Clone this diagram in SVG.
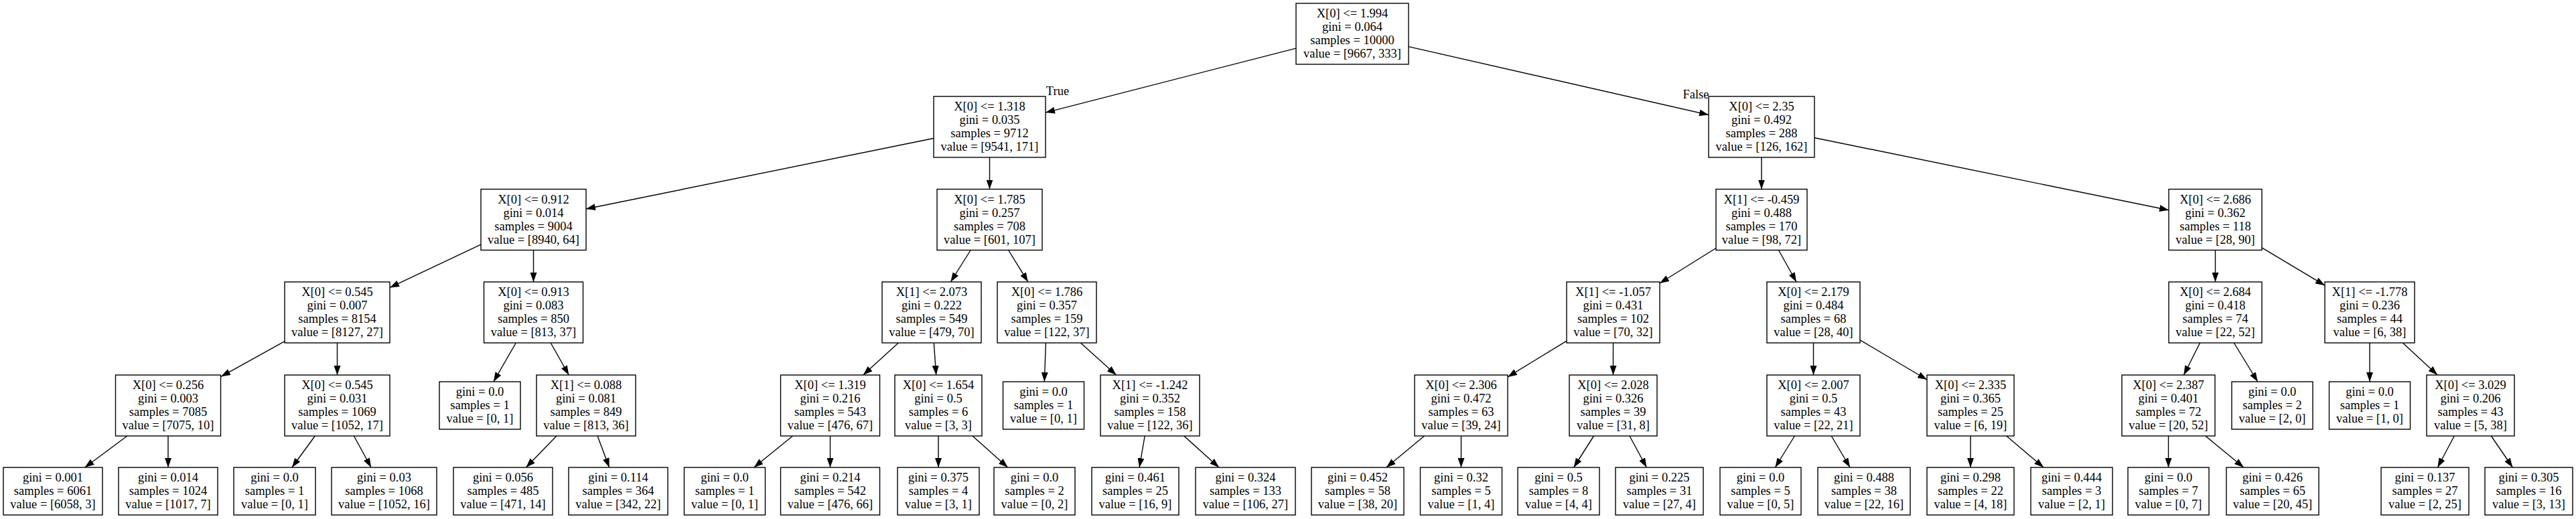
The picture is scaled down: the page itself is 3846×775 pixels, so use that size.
<svg xmlns="http://www.w3.org/2000/svg" width="3846" height="775" viewBox="0 0 3846 775">
<style>
.box{fill:#fff;stroke:#000;stroke-width:1.4}
.t{font-family:"Liberation Serif","Times New Roman",serif;font-size:18.5px;fill:#000;text-anchor:middle}
.e{stroke:#000;stroke-width:1.4;fill:none;marker-end:url(#arrow)}
.lbl{font-family:"Liberation Serif","Times New Roman",serif;font-size:18.5px;fill:#000;text-anchor:middle}
</style>
<defs>
<marker id="arrow" markerWidth="14" markerHeight="10" refX="14" refY="5" orient="auto" markerUnits="userSpaceOnUse"><path d="M0,0 L14,5 L0,10 z" fill="#000"/></marker>
</defs>
<rect x="0" y="0" width="3846" height="775" fill="#fff"/>
<g id="edges">
<line class="e" x1="1935" y1="72.1" x2="1561" y2="168.1"/>
<line class="e" x1="2103" y1="69.6" x2="2551" y2="171.5"/>
<line class="e" x1="1394" y1="206.5" x2="875" y2="312"/>
<line class="e" x1="1477.5" y1="235" x2="1477.5" y2="282.5"/>
<line class="e" x1="2630" y1="235" x2="2630" y2="282.5"/>
<line class="e" x1="2709" y1="205.7" x2="3238" y2="313.8"/>
<line class="e" x1="718" y1="365.1" x2="582" y2="429.4"/>
<line class="e" x1="796.5" y1="373.5" x2="796.5" y2="421"/>
<line class="e" x1="1449.1" y1="373.5" x2="1419.4" y2="421"/>
<line class="e" x1="1505.6" y1="373.5" x2="1534.9" y2="421"/>
<line class="e" x1="2562" y1="370.5" x2="2478" y2="423"/>
<line class="e" x1="2655.5" y1="373.5" x2="2682" y2="421"/>
<line class="e" x1="3307.5" y1="373.5" x2="3307.5" y2="421"/>
<line class="e" x1="3377" y1="369.8" x2="3471" y2="426.2"/>
<line class="e" x1="425" y1="509.7" x2="330" y2="562.3"/>
<line class="e" x1="503.5" y1="512" x2="503.5" y2="560"/>
<line class="e" x1="770.3" y1="512" x2="736.9" y2="570"/>
<line class="e" x1="822.2" y1="512" x2="849.3" y2="560"/>
<line class="e" x1="1341.3" y1="512" x2="1288.7" y2="560"/>
<line class="e" x1="1394.3" y1="512" x2="1397.7" y2="560"/>
<line class="e" x1="1561.4" y1="512" x2="1559.3" y2="570"/>
<line class="e" x1="1613.4" y1="512" x2="1666.6" y2="560"/>
<line class="e" x1="2339" y1="509.1" x2="2251" y2="562.9"/>
<line class="e" x1="2408.5" y1="512" x2="2408.5" y2="560"/>
<line class="e" x1="2707.5" y1="512" x2="2707.5" y2="560"/>
<line class="e" x1="2777" y1="507.7" x2="2877" y2="567"/>
<line class="e" x1="3284.6" y1="512" x2="3260.4" y2="560"/>
<line class="e" x1="3335.3" y1="512" x2="3370.8" y2="570"/>
<line class="e" x1="3538" y1="512" x2="3538" y2="570"/>
<line class="e" x1="3587.3" y1="512" x2="3639.2" y2="560"/>
<line class="e" x1="189.9" y1="651" x2="126.7" y2="698"/>
<line class="e" x1="251" y1="651" x2="251" y2="698"/>
<line class="e" x1="470.3" y1="651" x2="435.9" y2="698"/>
<line class="e" x1="528.4" y1="651" x2="554.1" y2="698"/>
<line class="e" x1="830.9" y1="651" x2="785.4" y2="698"/>
<line class="e" x1="892.1" y1="651" x2="909.7" y2="698"/>
<line class="e" x1="1183.5" y1="651" x2="1125.7" y2="698"/>
<line class="e" x1="1239.5" y1="651" x2="1239.5" y2="698"/>
<line class="e" x1="1401" y1="651" x2="1401" y2="698"/>
<line class="e" x1="1452" y1="651" x2="1504.7" y2="698"/>
<line class="e" x1="1709.2" y1="651" x2="1701.1" y2="698"/>
<line class="e" x1="1767.7" y1="651" x2="1820" y2="698"/>
<line class="e" x1="2126.6" y1="651" x2="2069.8" y2="698"/>
<line class="e" x1="2181.5" y1="651" x2="2181.5" y2="698"/>
<line class="e" x1="2379.5" y1="651" x2="2349.6" y2="698"/>
<line class="e" x1="2433" y1="651" x2="2458.4" y2="698"/>
<line class="e" x1="2679.4" y1="651" x2="2650.4" y2="698"/>
<line class="e" x1="2734.3" y1="651" x2="2762.1" y2="698"/>
<line class="e" x1="2942" y1="651" x2="2942" y2="698"/>
<line class="e" x1="2995.7" y1="651" x2="3051.1" y2="698"/>
<line class="e" x1="3237.5" y1="651" x2="3237.5" y2="698"/>
<line class="e" x1="3292.8" y1="651" x2="3349.9" y2="698"/>
<line class="e" x1="3664.3" y1="651" x2="3639.4" y2="698"/>
<line class="e" x1="3719.4" y1="651" x2="3751.4" y2="698"/>
<text class="lbl" x="1579" y="142">True</text>
<text class="lbl" x="2532" y="147">False</text>
</g>
<g id="n0"><rect class="box" x="1935" y="5" width="168" height="91"/><text class="t"><tspan x="2019" y="26">X[0] &lt;= 1.994</tspan><tspan x="2019" y="46">gini = 0.064</tspan><tspan x="2019" y="66">samples = 10000</tspan><tspan x="2019" y="86">value = [9667, 333]</tspan></text></g>
<g id="n1"><rect class="box" x="1394" y="144" width="167" height="91"/><text class="t"><tspan x="1477.5" y="165">X[0] &lt;= 1.318</tspan><tspan x="1477.5" y="185">gini = 0.035</tspan><tspan x="1477.5" y="205">samples = 9712</tspan><tspan x="1477.5" y="225">value = [9541, 171]</tspan></text></g>
<g id="n2"><rect class="box" x="2551" y="144" width="158" height="91"/><text class="t"><tspan x="2630" y="165">X[0] &lt;= 2.35</tspan><tspan x="2630" y="185">gini = 0.492</tspan><tspan x="2630" y="205">samples = 288</tspan><tspan x="2630" y="225">value = [126, 162]</tspan></text></g>
<g id="n3"><rect class="box" x="718" y="282.5" width="157" height="91"/><text class="t"><tspan x="796.5" y="303.5">X[0] &lt;= 0.912</tspan><tspan x="796.5" y="323.5">gini = 0.014</tspan><tspan x="796.5" y="343.5">samples = 9004</tspan><tspan x="796.5" y="363.5">value = [8940, 64]</tspan></text></g>
<g id="n4"><rect class="box" x="1399" y="282.5" width="157" height="91"/><text class="t"><tspan x="1477.5" y="303.5">X[0] &lt;= 1.785</tspan><tspan x="1477.5" y="323.5">gini = 0.257</tspan><tspan x="1477.5" y="343.5">samples = 708</tspan><tspan x="1477.5" y="363.5">value = [601, 107]</tspan></text></g>
<g id="n5"><rect class="box" x="2562" y="282.5" width="136" height="91"/><text class="t"><tspan x="2630" y="303.5">X[1] &lt;= -0.459</tspan><tspan x="2630" y="323.5">gini = 0.488</tspan><tspan x="2630" y="343.5">samples = 170</tspan><tspan x="2630" y="363.5">value = [98, 72]</tspan></text></g>
<g id="n6"><rect class="box" x="3238" y="282.5" width="139" height="91"/><text class="t"><tspan x="3307.5" y="303.5">X[0] &lt;= 2.686</tspan><tspan x="3307.5" y="323.5">gini = 0.362</tspan><tspan x="3307.5" y="343.5">samples = 118</tspan><tspan x="3307.5" y="363.5">value = [28, 90]</tspan></text></g>
<g id="n7"><rect class="box" x="425" y="421" width="157" height="91"/><text class="t"><tspan x="503.5" y="442">X[0] &lt;= 0.545</tspan><tspan x="503.5" y="462">gini = 0.007</tspan><tspan x="503.5" y="482">samples = 8154</tspan><tspan x="503.5" y="502">value = [8127, 27]</tspan></text></g>
<g id="n8"><rect class="box" x="722.5" y="421" width="148" height="91"/><text class="t"><tspan x="796.5" y="442">X[0] &lt;= 0.913</tspan><tspan x="796.5" y="462">gini = 0.083</tspan><tspan x="796.5" y="482">samples = 850</tspan><tspan x="796.5" y="502">value = [813, 37]</tspan></text></g>
<g id="n9"><rect class="box" x="1317" y="421" width="148" height="91"/><text class="t"><tspan x="1391" y="442">X[1] &lt;= 2.073</tspan><tspan x="1391" y="462">gini = 0.222</tspan><tspan x="1391" y="482">samples = 549</tspan><tspan x="1391" y="502">value = [479, 70]</tspan></text></g>
<g id="n10"><rect class="box" x="1489" y="421" width="148" height="91"/><text class="t"><tspan x="1563" y="442">X[0] &lt;= 1.786</tspan><tspan x="1563" y="462">gini = 0.357</tspan><tspan x="1563" y="482">samples = 159</tspan><tspan x="1563" y="502">value = [122, 37]</tspan></text></g>
<g id="n11"><rect class="box" x="2339" y="421" width="139" height="91"/><text class="t"><tspan x="2408.5" y="442">X[1] &lt;= -1.057</tspan><tspan x="2408.5" y="462">gini = 0.431</tspan><tspan x="2408.5" y="482">samples = 102</tspan><tspan x="2408.5" y="502">value = [70, 32]</tspan></text></g>
<g id="n12"><rect class="box" x="2638" y="421" width="139" height="91"/><text class="t"><tspan x="2707.5" y="442">X[0] &lt;= 2.179</tspan><tspan x="2707.5" y="462">gini = 0.484</tspan><tspan x="2707.5" y="482">samples = 68</tspan><tspan x="2707.5" y="502">value = [28, 40]</tspan></text></g>
<g id="n13"><rect class="box" x="3238" y="421" width="139" height="91"/><text class="t"><tspan x="3307.5" y="442">X[0] &lt;= 2.684</tspan><tspan x="3307.5" y="462">gini = 0.418</tspan><tspan x="3307.5" y="482">samples = 74</tspan><tspan x="3307.5" y="502">value = [22, 52]</tspan></text></g>
<g id="n14"><rect class="box" x="3471" y="421" width="134" height="91"/><text class="t"><tspan x="3538" y="442">X[1] &lt;= -1.778</tspan><tspan x="3538" y="462">gini = 0.236</tspan><tspan x="3538" y="482">samples = 44</tspan><tspan x="3538" y="502">value = [6, 38]</tspan></text></g>
<g id="n15"><rect class="box" x="172.5" y="560" width="157" height="91"/><text class="t"><tspan x="251" y="581">X[0] &lt;= 0.256</tspan><tspan x="251" y="601">gini = 0.003</tspan><tspan x="251" y="621">samples = 7085</tspan><tspan x="251" y="641">value = [7075, 10]</tspan></text></g>
<g id="n16"><rect class="box" x="425" y="560" width="157" height="91"/><text class="t"><tspan x="503.5" y="581">X[0] &lt;= 0.545</tspan><tspan x="503.5" y="601">gini = 0.031</tspan><tspan x="503.5" y="621">samples = 1069</tspan><tspan x="503.5" y="641">value = [1052, 17]</tspan></text></g>
<g id="n17"><rect class="box" x="656" y="570" width="121" height="71"/><text class="t"><tspan x="716.5" y="591">gini = 0.0</tspan><tspan x="716.5" y="611">samples = 1</tspan><tspan x="716.5" y="631">value = [0, 1]</tspan></text></g>
<g id="n18"><rect class="box" x="801" y="560" width="148" height="91"/><text class="t"><tspan x="875" y="581">X[1] &lt;= 0.088</tspan><tspan x="875" y="601">gini = 0.081</tspan><tspan x="875" y="621">samples = 849</tspan><tspan x="875" y="641">value = [813, 36]</tspan></text></g>
<g id="n19"><rect class="box" x="1165.5" y="560" width="148" height="91"/><text class="t"><tspan x="1239.5" y="581">X[0] &lt;= 1.319</tspan><tspan x="1239.5" y="601">gini = 0.216</tspan><tspan x="1239.5" y="621">samples = 543</tspan><tspan x="1239.5" y="641">value = [476, 67]</tspan></text></g>
<g id="n20"><rect class="box" x="1336" y="560" width="130" height="91"/><text class="t"><tspan x="1401" y="581">X[0] &lt;= 1.654</tspan><tspan x="1401" y="601">gini = 0.5</tspan><tspan x="1401" y="621">samples = 6</tspan><tspan x="1401" y="641">value = [3, 3]</tspan></text></g>
<g id="n21"><rect class="box" x="1497.5" y="570" width="121" height="71"/><text class="t"><tspan x="1558" y="591">gini = 0.0</tspan><tspan x="1558" y="611">samples = 1</tspan><tspan x="1558" y="631">value = [0, 1]</tspan></text></g>
<g id="n22"><rect class="box" x="1643" y="560" width="148" height="91"/><text class="t"><tspan x="1717" y="581">X[1] &lt;= -1.242</tspan><tspan x="1717" y="601">gini = 0.352</tspan><tspan x="1717" y="621">samples = 158</tspan><tspan x="1717" y="641">value = [122, 36]</tspan></text></g>
<g id="n23"><rect class="box" x="2112" y="560" width="139" height="91"/><text class="t"><tspan x="2181.5" y="581">X[0] &lt;= 2.306</tspan><tspan x="2181.5" y="601">gini = 0.472</tspan><tspan x="2181.5" y="621">samples = 63</tspan><tspan x="2181.5" y="641">value = [39, 24]</tspan></text></g>
<g id="n24"><rect class="box" x="2343" y="560" width="131" height="91"/><text class="t"><tspan x="2408.5" y="581">X[0] &lt;= 2.028</tspan><tspan x="2408.5" y="601">gini = 0.326</tspan><tspan x="2408.5" y="621">samples = 39</tspan><tspan x="2408.5" y="641">value = [31, 8]</tspan></text></g>
<g id="n25"><rect class="box" x="2638" y="560" width="139" height="91"/><text class="t"><tspan x="2707.5" y="581">X[0] &lt;= 2.007</tspan><tspan x="2707.5" y="601">gini = 0.5</tspan><tspan x="2707.5" y="621">samples = 43</tspan><tspan x="2707.5" y="641">value = [22, 21]</tspan></text></g>
<g id="n26"><rect class="box" x="2877" y="560" width="130" height="91"/><text class="t"><tspan x="2942" y="581">X[0] &lt;= 2.335</tspan><tspan x="2942" y="601">gini = 0.365</tspan><tspan x="2942" y="621">samples = 25</tspan><tspan x="2942" y="641">value = [6, 19]</tspan></text></g>
<g id="n27"><rect class="box" x="3168" y="560" width="139" height="91"/><text class="t"><tspan x="3237.5" y="581">X[0] &lt;= 2.387</tspan><tspan x="3237.5" y="601">gini = 0.401</tspan><tspan x="3237.5" y="621">samples = 72</tspan><tspan x="3237.5" y="641">value = [20, 52]</tspan></text></g>
<g id="n28"><rect class="box" x="3332" y="570" width="121" height="71"/><text class="t"><tspan x="3392.5" y="591">gini = 0.0</tspan><tspan x="3392.5" y="611">samples = 2</tspan><tspan x="3392.5" y="631">value = [2, 0]</tspan></text></g>
<g id="n29"><rect class="box" x="3477.5" y="570" width="121" height="71"/><text class="t"><tspan x="3538" y="591">gini = 0.0</tspan><tspan x="3538" y="611">samples = 1</tspan><tspan x="3538" y="631">value = [1, 0]</tspan></text></g>
<g id="n30"><rect class="box" x="3623" y="560" width="131" height="91"/><text class="t"><tspan x="3688.5" y="581">X[0] &lt;= 3.029</tspan><tspan x="3688.5" y="601">gini = 0.206</tspan><tspan x="3688.5" y="621">samples = 43</tspan><tspan x="3688.5" y="641">value = [5, 38]</tspan></text></g>
<g id="l1"><rect class="box" x="5" y="698" width="148" height="71"/><text class="t"><tspan x="79" y="719">gini = 0.001</tspan><tspan x="79" y="739">samples = 6061</tspan><tspan x="79" y="759">value = [6058, 3]</tspan></text></g>
<g id="l2"><rect class="box" x="177" y="698" width="148" height="71"/><text class="t"><tspan x="251" y="719">gini = 0.014</tspan><tspan x="251" y="739">samples = 1024</tspan><tspan x="251" y="759">value = [1017, 7]</tspan></text></g>
<g id="l3"><rect class="box" x="349" y="698" width="122" height="71"/><text class="t"><tspan x="410" y="719">gini = 0.0</tspan><tspan x="410" y="739">samples = 1</tspan><tspan x="410" y="759">value = [0, 1]</tspan></text></g>
<g id="l4"><rect class="box" x="495" y="698" width="157" height="71"/><text class="t"><tspan x="573.5" y="719">gini = 0.03</tspan><tspan x="573.5" y="739">samples = 1068</tspan><tspan x="573.5" y="759">value = [1052, 16]</tspan></text></g>
<g id="l5"><rect class="box" x="677" y="698" width="148" height="71"/><text class="t"><tspan x="751" y="719">gini = 0.056</tspan><tspan x="751" y="739">samples = 485</tspan><tspan x="751" y="759">value = [471, 14]</tspan></text></g>
<g id="l6"><rect class="box" x="849" y="698" width="148" height="71"/><text class="t"><tspan x="923" y="719">gini = 0.114</tspan><tspan x="923" y="739">samples = 364</tspan><tspan x="923" y="759">value = [342, 22]</tspan></text></g>
<g id="l7"><rect class="box" x="1021.5" y="698" width="121" height="71"/><text class="t"><tspan x="1082" y="719">gini = 0.0</tspan><tspan x="1082" y="739">samples = 1</tspan><tspan x="1082" y="759">value = [0, 1]</tspan></text></g>
<g id="l8"><rect class="box" x="1165.5" y="698" width="148" height="71"/><text class="t"><tspan x="1239.5" y="719">gini = 0.214</tspan><tspan x="1239.5" y="739">samples = 542</tspan><tspan x="1239.5" y="759">value = [476, 66]</tspan></text></g>
<g id="l9"><rect class="box" x="1340" y="698" width="122" height="71"/><text class="t"><tspan x="1401" y="719">gini = 0.375</tspan><tspan x="1401" y="739">samples = 4</tspan><tspan x="1401" y="759">value = [3, 1]</tspan></text></g>
<g id="l10"><rect class="box" x="1484" y="698" width="121" height="71"/><text class="t"><tspan x="1544.5" y="719">gini = 0.0</tspan><tspan x="1544.5" y="739">samples = 2</tspan><tspan x="1544.5" y="759">value = [0, 2]</tspan></text></g>
<g id="l11"><rect class="box" x="1630" y="698" width="130" height="71"/><text class="t"><tspan x="1695" y="719">gini = 0.461</tspan><tspan x="1695" y="739">samples = 25</tspan><tspan x="1695" y="759">value = [16, 9]</tspan></text></g>
<g id="l12"><rect class="box" x="1785" y="698" width="149" height="71"/><text class="t"><tspan x="1859.5" y="719">gini = 0.324</tspan><tspan x="1859.5" y="739">samples = 133</tspan><tspan x="1859.5" y="759">value = [106, 27]</tspan></text></g>
<g id="l13"><rect class="box" x="1958" y="698" width="138" height="71"/><text class="t"><tspan x="2027" y="719">gini = 0.452</tspan><tspan x="2027" y="739">samples = 58</tspan><tspan x="2027" y="759">value = [38, 20]</tspan></text></g>
<g id="l14"><rect class="box" x="2120.5" y="698" width="122" height="71"/><text class="t"><tspan x="2181.5" y="719">gini = 0.32</tspan><tspan x="2181.5" y="739">samples = 5</tspan><tspan x="2181.5" y="759">value = [1, 4]</tspan></text></g>
<g id="l15"><rect class="box" x="2266" y="698" width="122" height="71"/><text class="t"><tspan x="2327" y="719">gini = 0.5</tspan><tspan x="2327" y="739">samples = 8</tspan><tspan x="2327" y="759">value = [4, 4]</tspan></text></g>
<g id="l16"><rect class="box" x="2412" y="698" width="131" height="71"/><text class="t"><tspan x="2477.5" y="719">gini = 0.225</tspan><tspan x="2477.5" y="739">samples = 31</tspan><tspan x="2477.5" y="759">value = [27, 4]</tspan></text></g>
<g id="l17"><rect class="box" x="2568" y="698" width="121" height="71"/><text class="t"><tspan x="2628.5" y="719">gini = 0.0</tspan><tspan x="2628.5" y="739">samples = 5</tspan><tspan x="2628.5" y="759">value = [0, 5]</tspan></text></g>
<g id="l18"><rect class="box" x="2714" y="698" width="138" height="71"/><text class="t"><tspan x="2783" y="719">gini = 0.488</tspan><tspan x="2783" y="739">samples = 38</tspan><tspan x="2783" y="759">value = [22, 16]</tspan></text></g>
<g id="l19"><rect class="box" x="2877" y="698" width="130" height="71"/><text class="t"><tspan x="2942" y="719">gini = 0.298</tspan><tspan x="2942" y="739">samples = 22</tspan><tspan x="2942" y="759">value = [4, 18]</tspan></text></g>
<g id="l20"><rect class="box" x="3032" y="698" width="122" height="71"/><text class="t"><tspan x="3093" y="719">gini = 0.444</tspan><tspan x="3093" y="739">samples = 3</tspan><tspan x="3093" y="759">value = [2, 1]</tspan></text></g>
<g id="l21"><rect class="box" x="3177" y="698" width="121" height="71"/><text class="t"><tspan x="3237.5" y="719">gini = 0.0</tspan><tspan x="3237.5" y="739">samples = 7</tspan><tspan x="3237.5" y="759">value = [0, 7]</tspan></text></g>
<g id="l22"><rect class="box" x="3324" y="698" width="138" height="71"/><text class="t"><tspan x="3393" y="719">gini = 0.426</tspan><tspan x="3393" y="739">samples = 65</tspan><tspan x="3393" y="759">value = [20, 45]</tspan></text></g>
<g id="l23"><rect class="box" x="3555" y="698" width="131" height="71"/><text class="t"><tspan x="3620.5" y="719">gini = 0.137</tspan><tspan x="3620.5" y="739">samples = 27</tspan><tspan x="3620.5" y="759">value = [2, 25]</tspan></text></g>
<g id="l24"><rect class="box" x="3710" y="698" width="131" height="71"/><text class="t"><tspan x="3775.5" y="719">gini = 0.305</tspan><tspan x="3775.5" y="739">samples = 16</tspan><tspan x="3775.5" y="759">value = [3, 13]</tspan></text></g>
</svg>
